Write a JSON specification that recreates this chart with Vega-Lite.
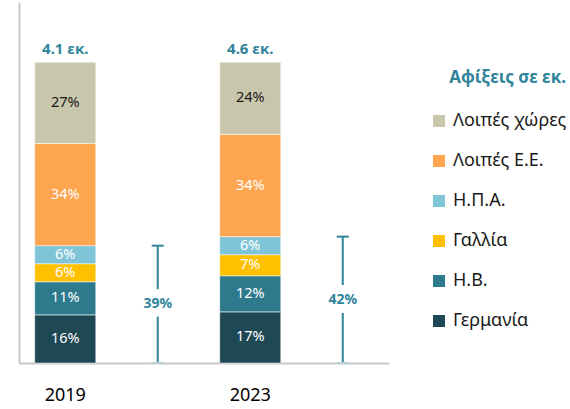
{
  "$schema": "https://vega.github.io/schema/vega-lite/v6.json",
  "width": 370,
  "height": 361,
  "autosize": {"type": "none"},
  "padding": {"left": 19, "top": 2, "right": 181, "bottom": 46},
  "config": {"font": "Noto Sans", "view": {"stroke": null}, "axis": {"grid": false}},
  "datasets": {
    "shares": [
      {"x": "2019", "cat": "Γερμανία", "o": 1, "v": 0.16},
      {"x": "2019", "cat": "Η.Β.", "o": 2, "v": 0.11},
      {"x": "2019", "cat": "Γαλλία", "o": 3, "v": 0.06},
      {"x": "2019", "cat": "Η.Π.Α.", "o": 4, "v": 0.06},
      {"x": "2019", "cat": "Λοιπές Ε.Ε.", "o": 5, "v": 0.34},
      {"x": "2019", "cat": "Λοιπές χώρες", "o": 6, "v": 0.27},
      {"x": "2023", "cat": "Γερμανία", "o": 1, "v": 0.17},
      {"x": "2023", "cat": "Η.Β.", "o": 2, "v": 0.12},
      {"x": "2023", "cat": "Γαλλία", "o": 3, "v": 0.07},
      {"x": "2023", "cat": "Η.Π.Α.", "o": 4, "v": 0.06},
      {"x": "2023", "cat": "Λοιπές Ε.Ε.", "o": 5, "v": 0.34},
      {"x": "2023", "cat": "Λοιπές χώρες", "o": 6, "v": 0.24}
    ],
    "totals": [
      {"x": "2019", "label": "4.1 εκ."},
      {"x": "2023", "label": "4.6 εκ."}
    ],
    "brackets": [
      {"x": "2019b", "total": 0.39},
      {"x": "2023b", "total": 0.42}
    ]
  },
  "encoding": {
    "x": {
      "field": "x",
      "type": "nominal",
      "scale": {"domain": ["2019", "2019b", "2023", "2023b"], "paddingInner": 0.34, "paddingOuter": 0.17},
      "axis": {
        "title": null,
        "labelExpr": "length(datum.value) > 4 ? '' : datum.value",
        "ticks": false,
        "labelAngle": 0,
        "labelFontSize": 18,
        "labelColor": "#000000",
        "labelPadding": 23,
        "domainColor": "#c8c8c8",
        "domainWidth": 2
      }
    }
  },
  "layer": [
    {
      "data": {"name": "shares"},
      "transform": [
        {"stack": "v", "groupby": ["x"], "sort": [{"field": "o", "order": "ascending"}], "as": ["y0", "y1"]},
        {"calculate": "(datum.y0 + datum.y1) / 2", "as": "ym"}
      ],
      "layer": [
        {
          "mark": {"type": "bar", "stroke": "#ffffff", "strokeWidth": 0.5},
          "encoding": {
            "y": {
              "field": "y0",
              "type": "quantitative",
              "scale": {"domain": [0, 1.2]},
              "axis": {"title": null, "labels": false, "ticks": false, "grid": false, "domainColor": "#c8c8c8", "domainWidth": 2}
            },
            "y2": {"field": "y1"},
            "color": {
              "field": "cat",
              "type": "nominal",
              "scale": {
                "domain": ["Λοιπές χώρες", "Λοιπές Ε.Ε.", "Η.Π.Α.", "Γαλλία", "Η.Β.", "Γερμανία"],
                "range": ["#C9C7AB", "#FDA54F", "#80C4D8", "#FFC000", "#2E7A8D", "#1E4854"]
              },
              "legend": {
                "title": "Αφίξεις σε εκ.",
                "orient": "none",
                "legendX": 411,
                "legendY": 68,
                "titleFontSize": 17,
                "titleFontWeight": "bold",
                "titleColor": "#31849B",
                "titleAnchor": "end",
                "titlePadding": 25,
                "labelFontSize": 18,
                "labelColor": "#1a1a1a",
                "symbolType": "square",
                "symbolSize": 144,
                "symbolStrokeWidth": 0,
                "symbolOpacity": 1,
                "rowPadding": 22,
                "labelOffset": 5
              }
            }
          }
        },
        {
          "mark": {"type": "text", "fontSize": 14.5, "baseline": "middle"},
          "encoding": {
            "y": {"field": "ym", "type": "quantitative"},
            "text": {"field": "v", "type": "quantitative", "format": ".0%"},
            "color": {"condition": {"test": "datum.cat === 'Λοιπές χώρες'", "value": "#1a1a1a"}, "value": "#ffffff"}
          }
        }
      ]
    },
    {
      "data": {"name": "totals"},
      "transform": [{"calculate": "1", "as": "top"}],
      "mark": {"type": "text", "fontSize": 15, "fontWeight": "bold", "color": "#31849B", "baseline": "middle", "dy": -13},
      "encoding": {
        "y": {"field": "top", "type": "quantitative"},
        "text": {"field": "label", "type": "nominal"}
      }
    },
    {
      "data": {"name": "brackets"},
      "transform": [{"calculate": "datum.total / 2", "as": "mid"}, {"calculate": "0", "as": "base"}],
      "layer": [
        {
          "mark": {"type": "rule", "color": "#31849B", "strokeWidth": 2},
          "encoding": {
            "y": {"field": "base", "type": "quantitative"},
            "y2": {"field": "total"}
          }
        },
        {
          "mark": {"type": "tick", "color": "#31849B", "thickness": 2, "size": 12, "opacity": 1},
          "encoding": {"y": {"field": "total", "type": "quantitative"}}
        },
        {
          "mark": {"type": "tick", "color": "#b5d2da", "thickness": 2, "size": 12, "opacity": 1},
          "encoding": {"y": {"field": "base", "type": "quantitative"}}
        },
        {
          "mark": {"type": "text", "fontSize": 14, "fontWeight": "bold", "baseline": "middle", "stroke": "#ffffff", "strokeWidth": 18, "strokeJoin": "round", "color": "#ffffff"},
          "encoding": {
            "y": {"field": "mid", "type": "quantitative"},
            "text": {"field": "total", "type": "quantitative", "format": ".0%"}
          }
        },
        {
          "mark": {"type": "text", "fontSize": 14, "fontWeight": "bold", "baseline": "middle", "color": "#31849B"},
          "encoding": {
            "y": {"field": "mid", "type": "quantitative"},
            "text": {"field": "total", "type": "quantitative", "format": ".0%"}
          }
        }
      ]
    }
  ]
}
